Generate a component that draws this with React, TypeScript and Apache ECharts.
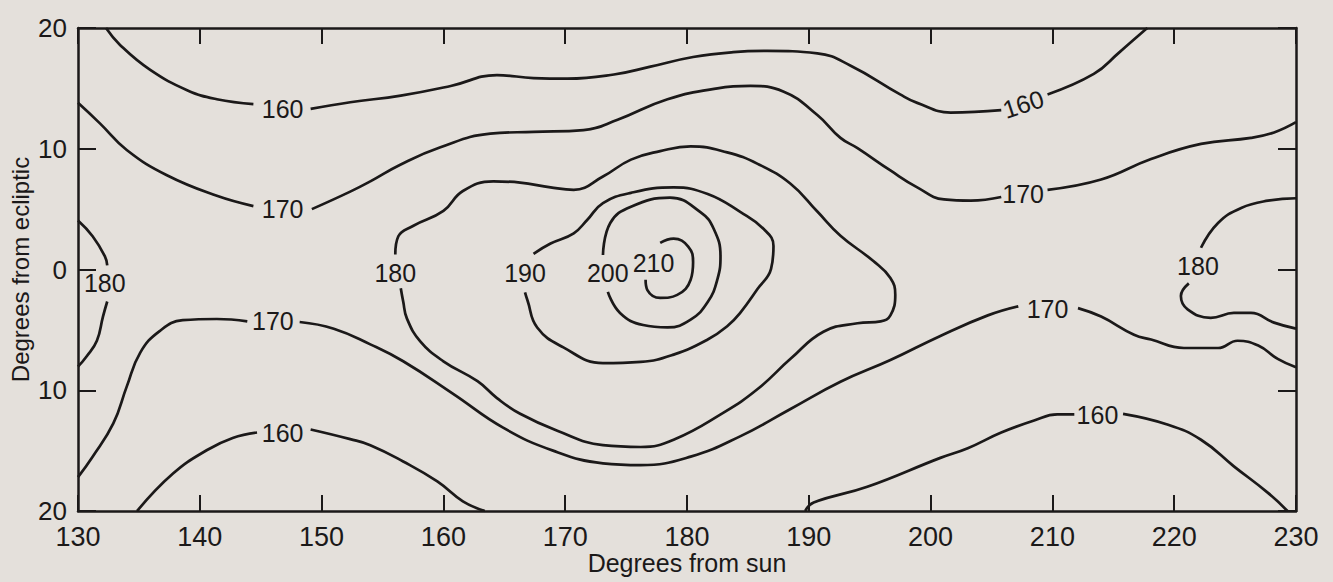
import React, { useEffect, useRef } from "react";
import * as echarts from "echarts";

// Isophote map of the gegenschein: brightness contours in
// [degrees from sun, degrees from ecliptic].

const xTicks = [130, 140, 150, 160, 170, 180, 190, 200, 210, 220, 230];
const yTicks = [-20, -10, 0, 10, 20];

// 160 contour, northern branch (split at its two labels)
const c160NorthA = [[132.3, 20], [133.45, 18.6], [135.9, 16.55], [139.0, 14.83], [141.4, 14.1], [144.4, 13.7]];
const c160NorthB = [[149.1, 13.3], [152.35, 13.85], [156.5, 14.4], [160.6, 15.2], [164.4, 16.1], [167.4, 15.85], [170.2, 15.8], [174.0, 16.15], [177.0, 16.8], [180.5, 17.6], [183.8, 18.0], [186.6, 18.1], [190.7, 17.9], [193.4, 16.9], [197.5, 14.5], [198.9, 13.8], [201.65, 13.0], [205.8, 13.2]];
const c160NorthC = [[209.6, 14.5], [213.4, 16.2], [215.4, 17.9], [217.5, 19.75], [217.8, 20]];

// 170 contour, northern branch
const c170NorthA = [[130, 13.8], [131.8, 12.1], [134.0, 9.9], [137.3, 7.8], [141.4, 6.1], [144.4, 5.25]];
const c170NorthB = [[149.2, 5.0], [152.35, 6.45], [154.0, 7.3], [156.5, 8.7], [159.7, 10.1], [163.85, 11.25], [167.4, 11.4], [171.5, 11.55], [174.3, 12.4], [178.4, 14.1], [182.5, 15.0], [185.2, 15.2], [187.9, 14.75], [190.7, 12.8], [192.6, 10.9], [194.0, 10.05], [196.7, 8.2], [198.9, 6.8], [201.1, 5.8], [203.3, 5.7], [205.8, 6.0]];
const c170NorthC = [[209.6, 6.6], [214.0, 7.45], [218.1, 9.15], [222.2, 10.4], [226.3, 10.9], [228.2, 11.35], [230, 12.2]];

// 180 contour at the western edge
const c180WestA = [[130, 4.05], [131.2, 2.75], [132.2, 1.1], [132.4, 0.35]];
const c180WestB = [[132.4, -2.65], [132.05, -3.9], [131.55, -5.9], [130.7, -7.2], [130, -8.05]];

// 170 contour, southern branch
const c170SouthA = [[130, -17.2], [131.2, -15.5], [132.9, -12.75], [134.0, -9.7], [135.1, -6.9], [136.7, -5.1], [138.6, -4.2], [141.4, -4.1], [143.9, -4.3]];
const c170SouthB = [[148.2, -4.35], [151.0, -4.9], [154.0, -6.2], [156.7, -7.6], [160.8, -10.3], [164.9, -13.1], [169.0, -15.0], [173.1, -16.05], [176.2, -16.2], [180.3, -15.5], [184.4, -13.8], [188.5, -11.55], [192.6, -9.3], [196.7, -7.5], [200.8, -5.5], [204.7, -3.8], [207.2, -3.05]];
const c170SouthC = [[212.1, -3.2], [214.0, -3.9], [216.7, -5.4], [218.1, -5.8], [220.8, -6.5], [223.6, -6.5], [225.2, -5.9], [226.9, -6.3], [228.5, -7.4], [230, -8.1]];

// 160 contour, southern branches
const c160SouthWestA = [[134.85, -20], [137.8, -16.9], [140.6, -14.95], [142.7, -13.95], [144.7, -13.5]];
const c160SouthWestB = [[149.1, -13.25], [152.35, -14.05], [154.0, -14.55], [156.7, -15.9], [159.5, -17.55], [161.6, -19.2], [163.4, -20]];
const c160SouthEastA = [[189.7, -20], [190.4, -19.3], [194.8, -18.0], [200.8, -15.6], [203.05, -14.8], [205.8, -13.5], [208.5, -12.5], [210.4, -12.0], [211.8, -12.0]];
const c160SouthEastB = [[215.8, -11.95], [219.5, -12.85], [222.2, -14.1], [224.9, -16.3], [227.7, -18.5], [229.3, -20]];

// Closed contours around the brightness peak (open at their labels)
const c180Loop = [[156.05, 1.25], [156.3, 2.75], [157.5, 3.6], [160.0, 4.85], [161.6, 6.5], [164.1, 7.3], [166.3, 7.2], [168.8, 6.8], [170.7, 6.6], [173.1, 7.7], [175.4, 9.1], [177.8, 9.8], [180.3, 10.2], [183.3, 9.7], [185.8, 8.75], [188.5, 7.1], [190.7, 4.8], [192.6, 2.8], [195.3, 0.7], [196.7, -0.7], [197.1, -2.1], [196.7, -3.8], [195.9, -4.3], [194.0, -4.45], [191.2, -5.15], [188.5, -7.4], [185.8, -9.9], [183.0, -11.85], [178.9, -14.1], [176.2, -14.7], [173.1, -14.55], [169.35, -13.35], [166.3, -11.95], [164.4, -10.65], [162.8, -9.25], [160.0, -7.6], [158.1, -5.95], [157.0, -4.05], [156.7, -2.65], [156.5, -1.55]];
const c190Loop = [[167.4, 1.3], [168.8, 2.15], [170.7, 3.0], [171.8, 4.1], [173.1, 5.5], [175.4, 6.35], [178.9, 6.8], [181.7, 6.25], [184.4, 4.75], [186.3, 3.35], [187.1, 1.95], [186.9, 0.05], [185.8, -1.6], [184.4, -3.55], [183.3, -4.7], [181.7, -5.8], [178.9, -7.05], [176.2, -7.65], [173.1, -7.75], [169.85, -6.45], [167.7, -4.8], [166.9, -2.55], [166.7, -1.9]];
const c200Loop = [[173.1, 1.2], [173.7, 3.85], [175.4, 5.2], [178.6, 5.95], [181.1, 4.75], [182.2, 3.35], [182.75, 1.1], [182.5, -0.8], [181.7, -2.7], [180.3, -4.15], [178.4, -4.8], [176.4, -4.6], [174.5, -3.6], [173.5, -1.85]];
const c210Loop = [[177.8, 2.2], [178.9, 2.55], [180.1, 1.9], [180.5, 0.6], [180.3, -0.85], [179.2, -2.1], [177.8, -2.35], [176.75, -1.7], [176.6, -0.85]];

// 180 contour at the eastern edge
const c180EastA = [[230, 5.9], [227.7, 5.7], [225.5, 5.1], [223.6, 3.85], [222.2, 1.8]];
const c180EastB = [[221.2, -1.15], [220.55, -2.2], [221.1, -3.3], [223.0, -4.0], [224.9, -3.6], [226.3, -3.6], [228.2, -4.4], [230, -4.9]];

// Contour levels and where each label sits
const levels = [160, 170, 180, 190, 200, 210];
const labelAt160 = [[146.8, 13.3], [207.6, 13.7], [146.8, -13.5], [213.7, -12.05]];
const labelAt170 = [[146.8, 5.0], [207.6, 6.25], [146.0, -4.3], [209.6, -3.3]];
const labelAt180 = [[132.2, -1.15], [156.05, -0.3], [221.95, 0.3]];
const labelAt190 = [[166.7, -0.25]];
const labelAt200 = [[173.5, -0.3]];
const labelAt210 = [[177.25, 0.55]];

const segments = [
  c160NorthA, c160NorthB, c160NorthC,
  c170NorthA, c170NorthB, c170NorthC,
  c180WestA, c180WestB,
  c170SouthA, c170SouthB, c170SouthC,
  c160SouthWestA, c160SouthWestB, c160SouthEastA, c160SouthEastB,
  c180Loop, c190Loop, c200Loop, c210Loop,
  c180EastA, c180EastB,
];
const labelSets = [labelAt160, labelAt170, labelAt180, labelAt190, labelAt200, labelAt210];

const INK = "#1b1919";
const PAPER = "#e4e0db";
const FONT = "'Liberation Sans', Arial, sans-serif";

function buildOption() {
  const lineSeries = segments.map((seg) => ({
    type: "line",
    data: seg,
    showSymbol: false,
    smooth: 0.45,
    silent: true,
    lineStyle: { color: INK, width: 2.7 },
    z: 3,
  }));

  const labelData: any[] = [];
  labelSets.forEach((set, i) => {
    set.forEach((p, j) => {
      const item: any = { value: p, name: String(levels[i]) };
      // the upper-right 160 label follows its rising contour
      if (i === 0 && j === 1) item.label = { rotate: 18 };
      labelData.push(item);
    });
  });

  const labelSeries = {
    type: "scatter",
    data: labelData,
    symbolSize: 0,
    silent: true,
    z: 4,
    itemStyle: { opacity: 1, color: INK },
    label: {
      show: true,
      position: "inside",
      formatter: "{b}",
      fontSize: 25,
      color: INK,
      opacity: 1,
      textBorderWidth: 0,
      fontFamily: FONT,
    },
  };

  const axisLine = { show: true, onZero: false, lineStyle: { color: INK, width: 2.5 } };
  const axisTick = { show: true, inside: true, length: 16, lineStyle: { color: INK, width: 2 } };

  return {
    animation: false,
    backgroundColor: PAPER,
    grid: {
      left: 78,
      right: 37,
      top: 28,
      bottom: 71,
      show: false,
      containLabel: false,
      outerBoundsMode: "none",
    },
    xAxis: [
      {
        type: "value",
        position: "bottom",
        min: xTicks[0],
        max: xTicks[xTicks.length - 1],
        interval: 10,
        axisLine,
        axisTick,
        splitLine: { show: false },
        axisLabel: { fontSize: 27, color: INK, fontFamily: FONT, margin: 12 },
        name: "Degrees from sun",
        nameLocation: "middle",
        nameGap: 38,
        nameMoveOverlap: false,
        nameTextStyle: { fontSize: 25, color: INK, fontFamily: FONT, lineHeight: 28 },
      },
      {
        type: "value",
        position: "top",
        min: xTicks[0],
        max: xTicks[xTicks.length - 1],
        interval: 10,
        axisLine,
        axisTick,
        splitLine: { show: false },
        axisLabel: { show: false },
      },
    ],
    yAxis: [
      {
        type: "value",
        position: "left",
        min: yTicks[0],
        max: yTicks[yTicks.length - 1],
        interval: 10,
        axisLine,
        axisTick: { ...axisTick, length: 18 },
        splitLine: { show: false },
        axisLabel: {
          fontSize: 26,
          color: INK,
          fontFamily: FONT,
          margin: 11,
          formatter: (v: number) => String(Math.abs(v)),
        },
        name: "Degrees from ecliptic",
        nameLocation: "middle",
        nameGap: 45,
        nameMoveOverlap: false,
        nameTextStyle: { fontSize: 24, color: INK, fontFamily: FONT, lineHeight: 26 },
      },
      {
        type: "value",
        position: "right",
        min: yTicks[0],
        max: yTicks[yTicks.length - 1],
        interval: 10,
        axisLine,
        axisTick: { ...axisTick, length: 18 },
        splitLine: { show: false },
        axisLabel: { show: false },
      },
    ],
    series: [...lineSeries, labelSeries],
  };
}

export default function App() {
  const ref = useRef<HTMLDivElement>(null);

  useEffect(() => {
    document.body.style.margin = "0";
    document.body.style.background = PAPER;
    const chart = echarts.init(ref.current as HTMLDivElement, null, { renderer: "svg" });
    chart.setOption(buildOption() as any);
    return () => {
      chart.dispose();
    };
  }, []);

  return <div ref={ref} style={{ width: 1333, height: 582 }} />;
}
